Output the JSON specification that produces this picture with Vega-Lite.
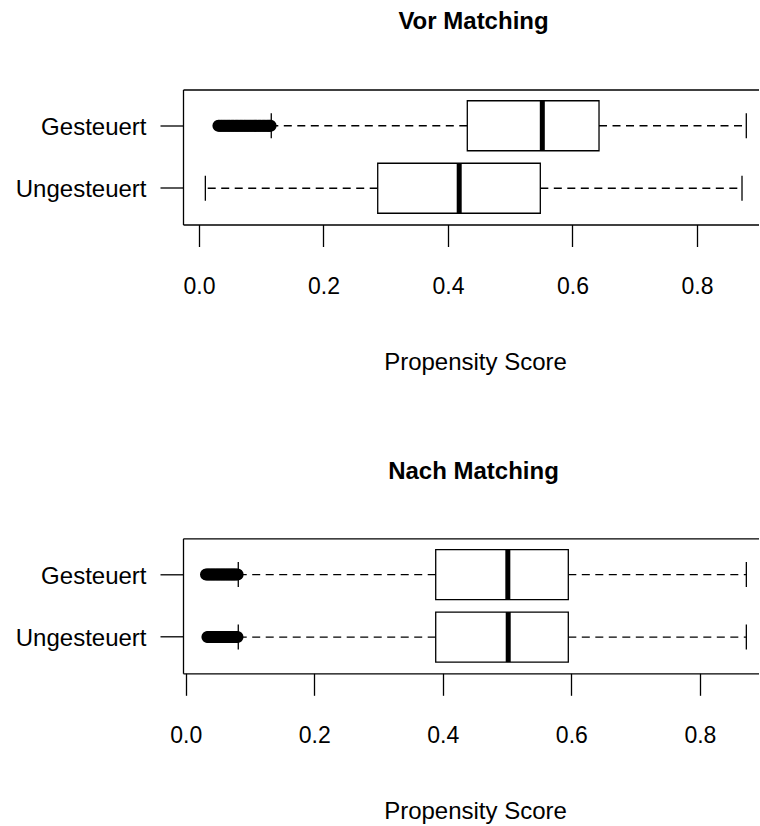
{
  "$schema": "https://vega.github.io/schema/vega-lite/v6.json",
  "padding": {"left": 15, "top": 9.5, "right": 0, "bottom": 0},
  "background": "white",
  "datasets": {
    "vor_stats": [
      {"group": "Gesteuert", "lower": 0.1161, "q1": 0.4310, "median": 0.5515, "q3": 0.6426, "upper": 0.8792},
      {"group": "Ungesteuert", "lower": 0.0102, "q1": 0.2871, "median": 0.4180, "q3": 0.5483, "upper": 0.8723}
    ],
    "nach_stats": [
      {"group": "Gesteuert", "lower": 0.0818, "q1": 0.3890, "median": 0.5012, "q3": 0.5953, "upper": 0.8723},
      {"group": "Ungesteuert", "lower": 0.0818, "q1": 0.3890, "median": 0.5018, "q3": 0.5953, "upper": 0.8723}
    ],
    "vor_out": [
      {"group": "Gesteuert", "value": 0.0312}, {"group": "Gesteuert", "value": 0.0331}, {"group": "Gesteuert", "value": 0.0353},
      {"group": "Gesteuert", "value": 0.0372}, {"group": "Gesteuert", "value": 0.0394}, {"group": "Gesteuert", "value": 0.0415},
      {"group": "Gesteuert", "value": 0.0434}, {"group": "Gesteuert", "value": 0.0456}, {"group": "Gesteuert", "value": 0.0477},
      {"group": "Gesteuert", "value": 0.0496}, {"group": "Gesteuert", "value": 0.0518}, {"group": "Gesteuert", "value": 0.0539},
      {"group": "Gesteuert", "value": 0.0558}, {"group": "Gesteuert", "value": 0.0580}, {"group": "Gesteuert", "value": 0.0601},
      {"group": "Gesteuert", "value": 0.0620}, {"group": "Gesteuert", "value": 0.0642}, {"group": "Gesteuert", "value": 0.0663},
      {"group": "Gesteuert", "value": 0.0682}, {"group": "Gesteuert", "value": 0.0704}, {"group": "Gesteuert", "value": 0.0725},
      {"group": "Gesteuert", "value": 0.0744}, {"group": "Gesteuert", "value": 0.0766}, {"group": "Gesteuert", "value": 0.0787},
      {"group": "Gesteuert", "value": 0.0806}, {"group": "Gesteuert", "value": 0.0828}, {"group": "Gesteuert", "value": 0.0849},
      {"group": "Gesteuert", "value": 0.0868}, {"group": "Gesteuert", "value": 0.0890}, {"group": "Gesteuert", "value": 0.0911},
      {"group": "Gesteuert", "value": 0.0930}, {"group": "Gesteuert", "value": 0.0952}, {"group": "Gesteuert", "value": 0.0973},
      {"group": "Gesteuert", "value": 0.0992}, {"group": "Gesteuert", "value": 0.1014}, {"group": "Gesteuert", "value": 0.1035},
      {"group": "Gesteuert", "value": 0.1054}, {"group": "Gesteuert", "value": 0.1076}, {"group": "Gesteuert", "value": 0.1097},
      {"group": "Gesteuert", "value": 0.1116}, {"group": "Gesteuert", "value": 0.1133}, {"group": "Gesteuert", "value": 0.1150}
    ],
    "nach_out": [
      {"group": "Gesteuert", "value": 0.0316}, {"group": "Gesteuert", "value": 0.0335}, {"group": "Gesteuert", "value": 0.0356},
      {"group": "Gesteuert", "value": 0.0374}, {"group": "Gesteuert", "value": 0.0395}, {"group": "Gesteuert", "value": 0.0413},
      {"group": "Gesteuert", "value": 0.0434}, {"group": "Gesteuert", "value": 0.0452}, {"group": "Gesteuert", "value": 0.0473},
      {"group": "Gesteuert", "value": 0.0491}, {"group": "Gesteuert", "value": 0.0512}, {"group": "Gesteuert", "value": 0.0530},
      {"group": "Gesteuert", "value": 0.0551}, {"group": "Gesteuert", "value": 0.0569}, {"group": "Gesteuert", "value": 0.0590},
      {"group": "Gesteuert", "value": 0.0608}, {"group": "Gesteuert", "value": 0.0629}, {"group": "Gesteuert", "value": 0.0647},
      {"group": "Gesteuert", "value": 0.0668}, {"group": "Gesteuert", "value": 0.0686}, {"group": "Gesteuert", "value": 0.0707},
      {"group": "Gesteuert", "value": 0.0725}, {"group": "Gesteuert", "value": 0.0746}, {"group": "Gesteuert", "value": 0.0764},
      {"group": "Gesteuert", "value": 0.0785}, {"group": "Gesteuert", "value": 0.0808},
      {"group": "Ungesteuert", "value": 0.0338}, {"group": "Ungesteuert", "value": 0.0357}, {"group": "Ungesteuert", "value": 0.0378},
      {"group": "Ungesteuert", "value": 0.0396}, {"group": "Ungesteuert", "value": 0.0417}, {"group": "Ungesteuert", "value": 0.0435},
      {"group": "Ungesteuert", "value": 0.0456}, {"group": "Ungesteuert", "value": 0.0474}, {"group": "Ungesteuert", "value": 0.0495},
      {"group": "Ungesteuert", "value": 0.0513}, {"group": "Ungesteuert", "value": 0.0534}, {"group": "Ungesteuert", "value": 0.0552},
      {"group": "Ungesteuert", "value": 0.0573}, {"group": "Ungesteuert", "value": 0.0591}, {"group": "Ungesteuert", "value": 0.0612},
      {"group": "Ungesteuert", "value": 0.0630}, {"group": "Ungesteuert", "value": 0.0651}, {"group": "Ungesteuert", "value": 0.0669},
      {"group": "Ungesteuert", "value": 0.0690}, {"group": "Ungesteuert", "value": 0.0708}, {"group": "Ungesteuert", "value": 0.0729},
      {"group": "Ungesteuert", "value": 0.0747}, {"group": "Ungesteuert", "value": 0.0768}, {"group": "Ungesteuert", "value": 0.0786},
      {"group": "Ungesteuert", "value": 0.0806}
    ]
  },
  "config": {
    "view": {"stroke": null},
    "font": "Liberation Sans",
    "axis": {
      "domainColor": "black", "tickColor": "black", "labelColor": "black", "titleColor": "black",
      "domainWidth": 1.3, "tickWidth": 1.3, "grid": false,
      "labelFont": "Liberation Sans", "titleFont": "Liberation Sans"
    },
    "axisY": {"orient": "left", "title": null, "labelFontSize": 24, "labelPadding": 14, "tickSize": 23,
              "labelBaseline": "alphabetic", "labelOffset": 9, "labelAlign": "right"},
    "tick": {"opacity": 1},
    "title": {"font": "Liberation Sans", "fontSize": 24, "fontWeight": "bold", "color": "black"}
  },
  "bounds": "flush",
  "spacing": 313.8,
  "vconcat": [
    {
      "title": {"text": "Vor Matching", "anchor": "middle", "frame": "group", "baseline": "alphabetic", "offset": 37, "dx": 2.5},
      "width": 576,
      "height": 135,
      "resolve": {"axis": {"x": "independent"}},
      "layer": [
        {
          "data": {"name": "vor_stats"},
          "mark": {"type": "rule", "strokeDash": [8, 5.5], "strokeWidth": 1.3, "color": "black"},
          "encoding": {
            "x": {"field": "q1", "type": "quantitative",
                  "scale": {"domain": [-0.0257, 0.8996], "nice": false, "zero": false},
                  "axis": {"orient": "bottom", "values": [0, 0.2, 0.4, 0.6, 0.8], "format": ".1f",
                           "labelFontSize": 23, "labelFlush": false, "labelOverlap": false,
                           "labelBaseline": "alphabetic", "labelPadding": 47, "tickSize": 22,
                           "title": "Propensity Score", "titleFontSize": 24, "titleFontWeight": "normal",
                           "titleBaseline": "alphabetic", "titleY": 145, "titleX": 292, "titleAlign": "center"}},
            "x2": {"field": "lower"},
            "y": {"field": "group", "type": "nominal",
                  "scale": {"type": "band", "domain": ["Gesteuert", "Ungesteuert"], "paddingInner": 0, "paddingOuter": 0.08}}
          }
        },
        {
          "data": {"name": "vor_stats"},
          "mark": {"type": "rule", "strokeDash": [8, 5.5], "strokeWidth": 1.3, "color": "black"},
          "encoding": {
            "x": {"field": "q3", "type": "quantitative",
                  "axis": {"orient": "top", "labels": false, "ticks": false, "domain": true, "title": null}},
            "x2": {"field": "upper"},
            "y": {"field": "group", "type": "nominal"}
          }
        },
        {
          "data": {"name": "vor_out"},
          "mark": {"type": "point", "shape": "circle", "filled": false, "size": 97, "strokeWidth": 2.2, "color": "black", "opacity": 1},
          "encoding": {
            "x": {"field": "value", "type": "quantitative", "axis": null},
            "y": {"field": "group", "type": "nominal"}
          }
        },
        {
          "data": {"name": "vor_stats"},
          "mark": {"type": "tick", "orient": "vertical", "size": 25, "thickness": 1.3, "color": "black", "opacity": 1},
          "encoding": {
            "x": {"field": "lower", "type": "quantitative", "axis": null},
            "y": {"field": "group", "type": "nominal"}
          }
        },
        {
          "data": {"name": "vor_stats"},
          "mark": {"type": "tick", "orient": "vertical", "size": 25, "thickness": 1.3, "color": "black", "opacity": 1},
          "encoding": {
            "x": {"field": "upper", "type": "quantitative", "axis": null},
            "y": {"field": "group", "type": "nominal"}
          }
        },
        {
          "data": {"name": "vor_stats"},
          "mark": {"type": "bar", "size": 50, "fill": "white", "stroke": "black", "strokeWidth": 1.3, "opacity": 1},
          "encoding": {
            "x": {"field": "q1", "type": "quantitative", "axis": null},
            "x2": {"field": "q3"},
            "y": {"field": "group", "type": "nominal"}
          }
        },
        {
          "data": {"name": "vor_stats"},
          "mark": {"type": "tick", "orient": "vertical", "size": 50, "thickness": 5, "color": "black", "opacity": 1},
          "encoding": {
            "x": {"field": "median", "type": "quantitative", "axis": null},
            "y": {"field": "group", "type": "nominal"}
          }
        }
      ]
    },
    {
      "title": {"text": "Nach Matching", "anchor": "middle", "frame": "group", "baseline": "alphabetic", "offset": 35, "dx": 2.5},
      "width": 576,
      "height": 135,
      "resolve": {"axis": {"x": "independent"}},
      "layer": [
        {
          "data": {"name": "nach_stats"},
          "mark": {"type": "rule", "strokeDash": [8, 5.5], "strokeWidth": 1.3, "color": "black"},
          "encoding": {
            "x": {"field": "q1", "type": "quantitative",
                  "scale": {"domain": [-0.0042, 0.8920], "nice": false, "zero": false},
                  "axis": {"orient": "bottom", "values": [0, 0.2, 0.4, 0.6, 0.8], "format": ".1f",
                           "labelFontSize": 23, "labelFlush": false, "labelOverlap": false,
                           "labelBaseline": "alphabetic", "labelPadding": 47, "tickSize": 22,
                           "title": "Propensity Score", "titleFontSize": 24, "titleFontWeight": "normal",
                           "titleBaseline": "alphabetic", "titleY": 145, "titleX": 292, "titleAlign": "center"}},
            "x2": {"field": "lower"},
            "y": {"field": "group", "type": "nominal",
                  "scale": {"type": "band", "domain": ["Gesteuert", "Ungesteuert"], "paddingInner": 0, "paddingOuter": 0.08}}
          }
        },
        {
          "data": {"name": "nach_stats"},
          "mark": {"type": "rule", "strokeDash": [8, 5.5], "strokeWidth": 1.3, "color": "black"},
          "encoding": {
            "x": {"field": "q3", "type": "quantitative",
                  "axis": {"orient": "top", "labels": false, "ticks": false, "domain": true, "title": null}},
            "x2": {"field": "upper"},
            "y": {"field": "group", "type": "nominal"}
          }
        },
        {
          "data": {"name": "nach_out"},
          "mark": {"type": "point", "shape": "circle", "filled": false, "size": 97, "strokeWidth": 2.2, "color": "black", "opacity": 1},
          "encoding": {
            "x": {"field": "value", "type": "quantitative", "axis": null},
            "y": {"field": "group", "type": "nominal"}
          }
        },
        {
          "data": {"name": "nach_stats"},
          "mark": {"type": "tick", "orient": "vertical", "size": 25, "thickness": 1.3, "color": "black", "opacity": 1},
          "encoding": {
            "x": {"field": "lower", "type": "quantitative", "axis": null},
            "y": {"field": "group", "type": "nominal"}
          }
        },
        {
          "data": {"name": "nach_stats"},
          "mark": {"type": "tick", "orient": "vertical", "size": 25, "thickness": 1.3, "color": "black", "opacity": 1},
          "encoding": {
            "x": {"field": "upper", "type": "quantitative", "axis": null},
            "y": {"field": "group", "type": "nominal"}
          }
        },
        {
          "data": {"name": "nach_stats"},
          "mark": {"type": "bar", "size": 50, "fill": "white", "stroke": "black", "strokeWidth": 1.3, "opacity": 1},
          "encoding": {
            "x": {"field": "q1", "type": "quantitative", "axis": null},
            "x2": {"field": "q3"},
            "y": {"field": "group", "type": "nominal"}
          }
        },
        {
          "data": {"name": "nach_stats"},
          "mark": {"type": "tick", "orient": "vertical", "size": 50, "thickness": 5, "color": "black", "opacity": 1},
          "encoding": {
            "x": {"field": "median", "type": "quantitative", "axis": null},
            "y": {"field": "group", "type": "nominal"}
          }
        }
      ]
    }
  ]
}
